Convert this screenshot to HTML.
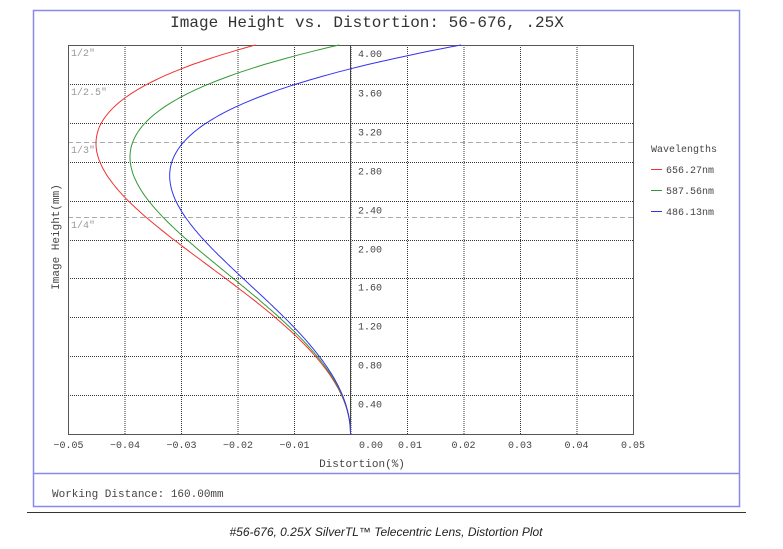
<!DOCTYPE html>
<html><head><meta charset="utf-8"><style>
body{margin:0;background:#fff;width:783px;height:544px;overflow:hidden}
text{font-family:"Liberation Mono",monospace}
</style></head><body>
<svg width="783" height="544" viewBox="0 0 783 544" xmlns="http://www.w3.org/2000/svg">
<rect x="33.5" y="10.5" width="706" height="496" fill="none" stroke="#8888ee" stroke-width="1.5"/>
<line x1="33" y1="473.5" x2="740" y2="473.5" stroke="#8888ee" stroke-width="1.5"/>
<text x="367" y="27" font-size="16" text-anchor="middle" fill="#333">Image Height vs. Distortion: 56-676, .25X</text>
<g id="grid"></g>
<rect x="68.5" y="45.5" width="565" height="389" fill="none" stroke="#555" stroke-width="1"/>
<line x1="350.5" y1="45" x2="350.5" y2="434" stroke="#444"/>
<g font-size="10" fill="#444" id="lab"></g>
<g font-size="10" fill="#999">
<text x="71" y="56">1/2"</text><text x="71" y="95">1/2.5"</text><text x="71" y="153">1/3"</text><text x="71" y="228">1/4"</text>
</g>
<g id="curves" fill="none" stroke-width="1"></g>
<text x="362" y="467" font-size="11" text-anchor="middle" fill="#444">Distortion(%)</text>
<text transform="translate(59,237) rotate(-90)" font-size="11" text-anchor="middle" fill="#444">Image Height(mm)</text>
<g font-size="10" fill="#444">
<text x="651" y="152">Wavelengths</text>
<line x1="651" y1="169.5" x2="662" y2="169.5" stroke="#e33"/><text x="666" y="173">656.27nm</text>
<line x1="651" y1="190.5" x2="662" y2="190.5" stroke="#393"/><text x="666" y="194">587.56nm</text>
<line x1="651" y1="211.5" x2="662" y2="211.5" stroke="#33e"/><text x="666" y="215">486.13nm</text>
</g>
<text x="52" y="497" font-size="11" fill="#444">Working Distance: 160.00mm</text>
<line x1="27" y1="512.5" x2="746" y2="512.5" stroke="#333"/>
<text x="386" y="536" font-size="12" font-style="italic" text-anchor="middle" fill="#222" style="font-family:'Liberation Sans',sans-serif">#56-676, 0.25X SilverTL™ Telecentric Lens, Distortion Plot</text>
</svg>
<script>
var ns="http://www.w3.org/2000/svg";
function el(p,t,a,txt){var e=document.createElementNS(ns,t);for(var k in a)e.setAttribute(k,a[k]);if(txt)e.textContent=txt;document.getElementById(p).appendChild(e);}
var X=function(d){return 350.5+d*5650;},Y=function(h){return 434-h*97.25;};
for(var i=1;i<10;i++){var x=68.5+i*56.5;el("grid","line",{x1:x,y1:45,x2:x,y2:434,stroke:"#333","stroke-dasharray":"1,1"});}
for(var j=1;j<10;j++){var y=Math.round(Y(j*0.4))+0.5;el("grid","line",{x1:68,y1:y,x2:633,y2:y,stroke:"#333","stroke-dasharray":"1,1"});
 el("lab","text",{x:358,y:y+12},(j*0.4).toFixed(2));}
el("lab","text",{x:358,y:57},"4.00");
[142,217].forEach(function(y){el("grid","line",{x1:68,y1:y+.5,x2:633,y2:y+.5,stroke:"#aaa","stroke-dasharray":"5,3"});});
var xl=["−0.05","−0.04","−0.03","−0.02","−0.01"];
for(var i=0;i<5;i++)el("lab","text",{x:68.5+i*56.5,y:448,"text-anchor":"middle"},xl[i]);
el("lab","text",{x:371,y:448,"text-anchor":"middle"},"0.00");
for(var i=1;i<=5;i++)el("lab","text",{x:350.5+i*56.5+(i==1?3:0),y:448,"text-anchor":"middle"},"0.0"+i);
var cs=[["#e33",-0.01009,0.000565],["#393",-0.00963,0.000594],["#33e",-0.00908,0.000644]];
cs.forEach(function(c){var p="";for(var h=0;h<=4.0001;h+=0.02){var d=c[1]*h*h+c[2]*h*h*h*h;p+=(p?"L":"M")+X(d).toFixed(1)+","+Y(h).toFixed(1);}
 el("curves","path",{d:p,stroke:c[0]});});
</script>
</body></html>
